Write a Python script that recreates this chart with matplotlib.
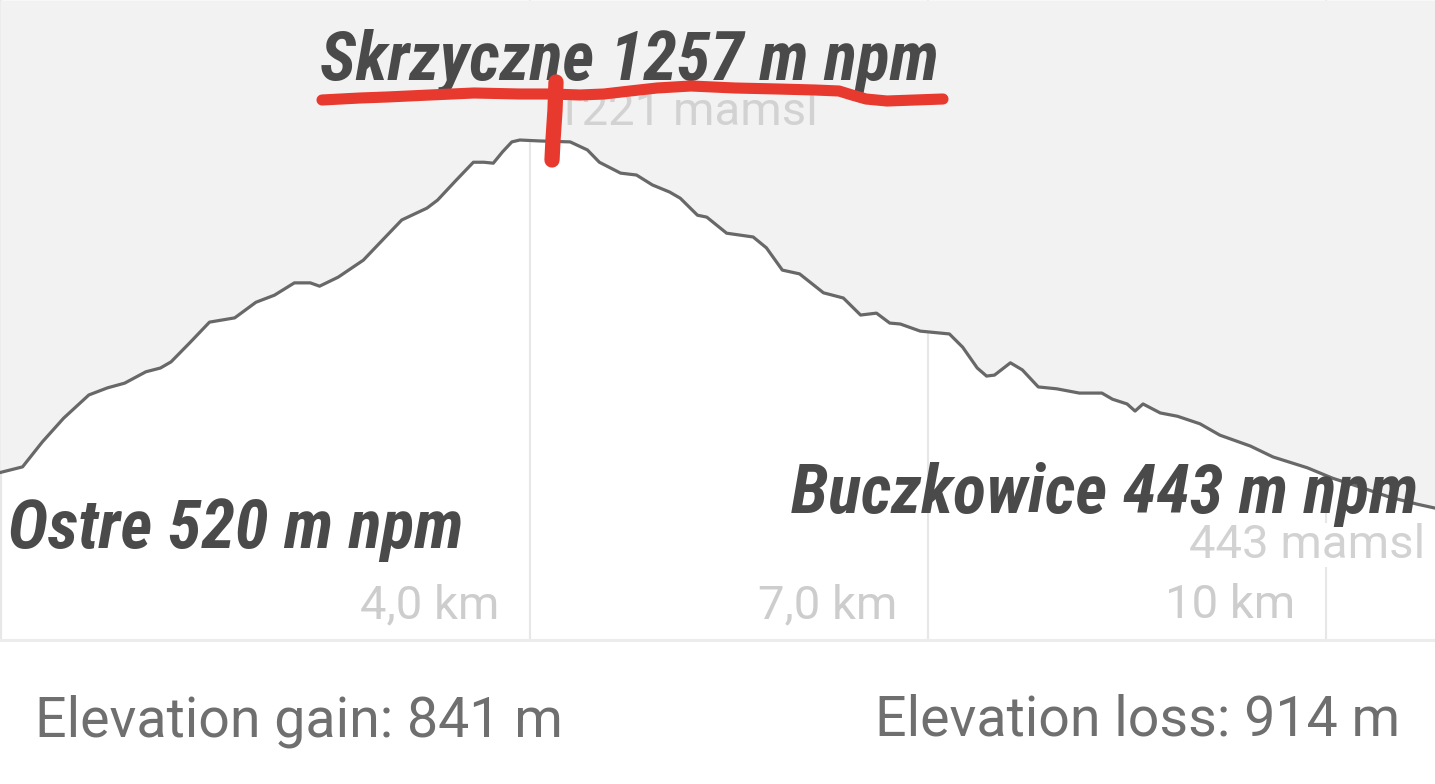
import matplotlib
matplotlib.use("Agg")
import matplotlib.pyplot as plt
from matplotlib.lines import Line2D

# ---------------- data ----------------
distance_km = [0.00, 0.17, 0.32, 0.48, 0.67, 0.81, 0.94, 1.10, 1.21, 1.29, 1.43, 1.58,
               1.77, 1.93, 2.07, 2.22, 2.34, 2.41, 2.55, 2.74, 2.90, 3.03, 3.22, 3.30,
               3.44, 3.57, 3.65, 3.72, 3.79, 3.86, 3.92, 4.07, 4.30, 4.43, 4.52, 4.68,
               4.80, 4.92, 5.05, 5.13, 5.26, 5.33, 5.48, 5.68, 5.78, 5.90, 6.03, 6.21,
               6.36, 6.49, 6.61, 6.71, 6.79, 6.94, 7.16, 7.26, 7.37, 7.44, 7.50, 7.62,
               7.71, 7.83, 7.97, 8.14, 8.31, 8.39, 8.50, 8.56, 8.62, 8.75, 8.88, 9.05,
               9.20, 9.43, 9.60, 9.86, 10.05, 10.26, 10.48, 10.69, 10.82]
elevation_m = [518, 530, 583, 633, 682, 697, 707, 731, 739, 752, 792, 836,
               845, 878, 893, 919, 919, 912, 931, 967, 1014, 1052, 1077, 1094,
               1136, 1174, 1174, 1172, 1196, 1217, 1221, 1219, 1217, 1200, 1174, 1151,
               1147, 1126, 1111, 1098, 1062, 1058, 1024, 1016, 993, 946, 938, 898,
               887, 851, 855, 834, 832, 817, 811, 783, 739, 722, 724, 750,
               735, 699, 695, 686, 686, 673, 663, 648, 663, 644, 637, 621,
               597, 574, 551, 528, 506, 487, 466, 451, 443]

tick_km = [4, 7, 10]
tick_labels = ["4,0 km", "7,0 km", "10 km"]

peak_label = "Skrzyczne 1257 m npm"
start_label = "Ostre 520 m npm"
end_label = "Buczkowice 443 m npm"
peak_app_label = "1221 mamsl"
end_app_label = "443 mamsl"
gain_label = "Elevation gain: 841 m"
loss_label = "Elevation loss: 914 m"

# ---------------- figure ----------------
W, H = 1435, 784
fig = plt.figure(figsize=(W / 100, H / 100), dpi=100)
fig.patch.set_facecolor("white")

def fx(px):
    return px / W

def fy(py):
    return 1 - py / H

ax = fig.add_axes([0, 1 - 640 / H, 1, 640 / H])
ax.set_facecolor("white")
YMIN, YMAX = 164, 1517
ax.set_xlim(0, 1435 / 132.6)
ax.set_ylim(YMIN, YMAX)
for s in ax.spines.values():
    s.set_visible(False)
ax.set_xticks([])
ax.set_yticks([])

# gridlines (hidden by grey fill above profile)
ax.vlines([0.008] + tick_km, YMIN, YMAX, colors="#e7e7e7", linewidth=1.5, zorder=1)
ax.fill_between(distance_km, elevation_m, YMAX, color="#f2f2f2", linewidth=0, zorder=2)
ax.plot(distance_km, elevation_m, color="#686868", linewidth=2.3, zorder=4,
        solid_joinstyle="round", solid_capstyle="round")
ax.axhline(YMIN, color="#ececec", linewidth=2.2, clip_on=False, zorder=5)

reg = dict(family="Roboto")
for t, lab in zip(tick_km, tick_labels):
    ax.annotate(lab, xy=(t, 0), xycoords=("data", "axes fraction"),
                xytext=(-31, 22), textcoords="offset pixels",
                ha="right", va="baseline", fontsize=34, color="#cdcdcd", zorder=3, **reg)

# app labels (light grey)
fig.text(fx(555), fy(125), peak_app_label, ha="left", va="baseline", fontsize=34,
         color="#d2d2d2", zorder=3, **reg)
fig.text(fx(1425), fy(558), end_app_label, ha="right", va="baseline", fontsize=34,
         color="#d2d2d2", zorder=3,
         bbox=dict(facecolor="white", edgecolor="none", pad=0.5), **reg)

# bold italic condensed labels
bold = dict(family="Roboto Condensed", weight="bold", style="italic", color="#4a4a4a")
t_peak = fig.text(fx(320), fy(80), peak_label, ha="left", va="baseline", zorder=6, **bold)
t_start = fig.text(fx(8), fy(548), start_label, ha="left", va="baseline", zorder=6, **bold)
t_end = fig.text(fx(1418), fy(513), end_label, ha="right", va="baseline", zorder=6, **bold)
for t in (t_peak, t_start, t_end):
    t.set_fontsize(40)
fig.canvas.draw()
r = fig.canvas.get_renderer()
wid = t_peak.get_window_extent(r).width
size = 40 * 618 / wid
for t in (t_peak, t_start, t_end):
    t.set_fontsize(size)

# bottom summary
fig.text(fx(35), fy(736), gain_label, ha="left", va="baseline", fontsize=40,
         color="#6f6f6f", **reg)
fig.text(fx(1400), fy(736), loss_label, ha="right", va="baseline", fontsize=40,
         color="#6f6f6f", **reg)

# red hand-drawn marker
red = "#e8392e"
ux = [322, 360, 387, 430, 474, 520, 552, 580, 604, 630, 657, 691, 735, 778, 815, 839, 852, 866, 887, 915, 943]
uy = [100, 98, 97, 95, 93, 94, 94, 95, 94, 91, 88, 86, 88, 89, 90, 91, 95, 99, 101, 100, 99]
fig.add_artist(Line2D([fx(v) for v in ux], [fy(v) for v in uy], color=red,
                      linewidth=8, solid_capstyle="round", solid_joinstyle="round", zorder=7))
vx = [556, 555, 553, 552]
vy = [82, 110, 140, 160]
fig.add_artist(Line2D([fx(v) for v in vx], [fy(v) for v in vy], color=red,
                      linewidth=11, solid_capstyle="round", solid_joinstyle="round", zorder=7))

fig.savefig("out.png", dpi=100, facecolor="white")
